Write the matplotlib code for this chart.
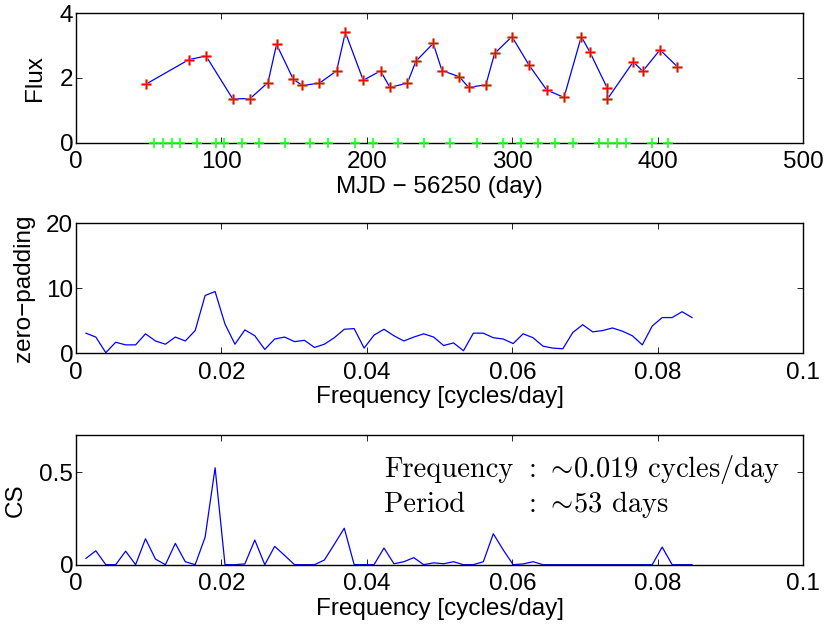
import matplotlib
matplotlib.use('Agg')
import matplotlib.pyplot as plt

plt.rcParams['font.family'] = ['Liberation Sans', 'DejaVu Sans']
plt.rcParams['mathtext.fontset'] = 'cm'

# light curve: observation day (MJD - 56250) and flux
obs_day = [48.1, 77.7, 89.4, 107.7, 119.6, 132.0, 137.9, 149.4, 155.6, 167.3,
           179.2, 185.2, 197.5, 209.4, 215.8, 227.8, 233.7, 245.6, 251.6, 263.5,
           269.9, 281.8, 287.8, 299.7, 311.6, 323.6, 335.5, 347.4, 353.3, 365.2,
           365.2, 383.1, 389.6, 401.5, 413.4]
obs_flux = [1.81, 2.57, 2.68, 1.36, 1.36, 1.86, 3.04, 1.96, 1.77, 1.84,
            2.22, 3.41, 1.93, 2.22, 1.71, 1.84, 2.52, 3.07, 2.23, 2.04,
            1.71, 1.79, 2.76, 3.28, 2.39, 1.63, 1.40, 3.28, 2.80, 1.69,
            1.34, 2.50, 2.21, 2.87, 2.35]

# sampling days shown along the time axis
samp_day = [53.6, 59.6, 65.8, 71.5, 83.0, 96.0, 102.0, 113.9, 126.0, 143.7,
            160.9, 173.4, 191.8, 204.0, 221.6, 239.5, 257.1, 275.9, 293.8, 305.7,
            317.4, 329.3, 341.4, 359.7, 365.5, 371.7, 377.9, 395.7, 407.2]

# frequency grid (cycles/day)
freq = [0.00137, 0.00273, 0.00410, 0.00546, 0.00683, 0.00820, 0.00956, 0.01093,
        0.01230, 0.01366, 0.01503, 0.01639, 0.01776, 0.01913, 0.02049, 0.02186,
        0.02322, 0.02459, 0.02596, 0.02732, 0.02869, 0.03005, 0.03142, 0.03279,
        0.03415, 0.03552, 0.03689, 0.03825, 0.03962, 0.04098, 0.04235, 0.04372,
        0.04508, 0.04645, 0.04781, 0.04918, 0.05055, 0.05191, 0.05328, 0.05464,
        0.05601, 0.05738, 0.05874, 0.06011, 0.06148, 0.06284, 0.06421, 0.06557,
        0.06694, 0.06831, 0.06967, 0.07104, 0.07240, 0.07377, 0.07514, 0.07650,
        0.07787, 0.07923, 0.08060, 0.08197, 0.08333, 0.08470]

# zero-padded periodogram
zp_power = [3.1, 2.5, 0.1, 1.7, 1.3, 1.3, 3.0, 1.9, 1.4, 2.5,
            1.9, 3.5, 8.9, 9.5, 4.5, 1.4, 3.6, 2.7, 0.6, 2.2,
            2.5, 1.8, 2.0, 0.9, 1.4, 2.4, 3.7, 3.8, 0.8, 2.8,
            3.7, 2.7, 1.9, 2.5, 3.0, 2.5, 1.2, 1.6, 0.4, 3.1,
            3.1, 2.4, 2.2, 1.5, 3.0, 2.4, 1.1, 0.8, 0.7, 3.2,
            4.4, 3.3, 3.5, 3.9, 3.4, 2.7, 1.3, 4.2, 5.5, 5.5,
            6.4, 5.5]

# compressed sensing spectrum
cs_power = [0.034, 0.075, 0.0, 0.0, 0.073, 0.0, 0.140, 0.030, 0.0, 0.115,
            0.016, 0.0, 0.149, 0.523, 0.0, 0.0, 0.004, 0.133, 0.0, 0.099,
            0.050, 0.0, 0.0, 0.0, 0.025, 0.110, 0.197, 0.0, 0.0, 0.0,
            0.090, 0.005, 0.016, 0.038, 0.0, 0.010, 0.005, 0.016, 0.0, 0.0,
            0.016, 0.167, 0.080, 0.0, 0.004, 0.016, 0.0, 0.0, 0.0, 0.0,
            0.0, 0.0, 0.0, 0.0, 0.0, 0.0, 0.0, 0.0, 0.095, 0.0,
            0.0, 0.0]

FS = 17.5
FTICKS = [0, 0.02, 0.04, 0.06, 0.08, 0.1]
FLABELS = ['0', '0.02', '0.04', '0.06', '0.08', '0.1']

fig = plt.figure(figsize=(8.32, 6.25), dpi=100)
ax1 = fig.add_axes([0.0913, 0.7717, 0.8742, 0.2070])
ax2 = fig.add_axes([0.0913, 0.4347, 0.8742, 0.2080])
ax3 = fig.add_axes([0.0913, 0.0965, 0.8742, 0.2075])

def style(ax):
    ax.tick_params(direction='in', top=True, right=True, labelsize=FS,
                   length=4, width=0.6)
    ax.tick_params(axis='x', pad=6)
    ax.tick_params(axis='y', pad=2)
    for s in ax.spines.values():
        s.set_linewidth(1.0)

# top: light curve
ax1.plot(obs_day, obs_flux, color='blue', lw=0.9, zorder=2)
ax1.plot(obs_day, obs_flux, ls='none', marker='+', ms=7.5, mew=2.2,
         color='#c49060', alpha=0.8, zorder=3)
ax1.plot(obs_day, obs_flux, ls='none', marker='+', ms=7.5, mew=1.0,
         color='red', zorder=4)
ax1.plot(samp_day, [0] * len(samp_day), ls='none', marker='+', ms=7, mew=1.2,
         color='#22ff22', clip_on=False, zorder=5)
ax1.set_xlim(0, 500)
ax1.set_ylim(0, 4)
ax1.set_xticks([0, 100, 200, 300, 400, 500])
ax1.set_yticks([0, 2, 4])
ax1.set_xlabel('MJD \u2212 56250 (day)', fontsize=FS, labelpad=2)
ax1.set_ylabel('Flux', fontsize=FS, labelpad=10)
style(ax1)

# middle: zero-padding
ax2.plot(freq, zp_power, color='blue', lw=0.9)
ax2.set_xlim(0, 0.1)
ax2.set_ylim(0, 20)
ax2.set_xticks(FTICKS)
ax2.set_xticklabels(FLABELS)
ax2.set_yticks([0, 10, 20])
ax2.set_xlabel('Frequency [cycles/day]', fontsize=FS, labelpad=2)
ax2.set_ylabel('zero\u2212padding', fontsize=FS, labelpad=8)
style(ax2)

# bottom: CS
ax3.plot(freq, cs_power, color='blue', lw=0.9)
ax3.set_xlim(0, 0.1)
ax3.set_ylim(0, 0.7)
ax3.set_xticks(FTICKS)
ax3.set_xticklabels(FLABELS)
ax3.set_yticks([0, 0.5])
ax3.set_yticklabels(['0', '0.5'])
ax3.set_xlabel('Frequency [cycles/day]', fontsize=FS, labelpad=2)
ax3.set_ylabel('CS', fontsize=FS, labelpad=9)
style(ax3)

tfs = 20.5
ax3.text(0.0424, 0.475, 'Frequency', family='cmr10', fontsize=tfs, va='baseline')
ax3.text(0.0424, 0.287, 'Period', family='cmr10', fontsize=tfs, va='baseline')
ax3.text(0.0622, 0.475, r': ${\sim}\!$0.019 cycles/day', family='cmr10',
         fontsize=tfs, va='baseline')
ax3.text(0.0622, 0.287, r': ${\sim}\!$53 days', family='cmr10',
         fontsize=tfs, va='baseline')

fig.savefig('out.png', dpi=100)
